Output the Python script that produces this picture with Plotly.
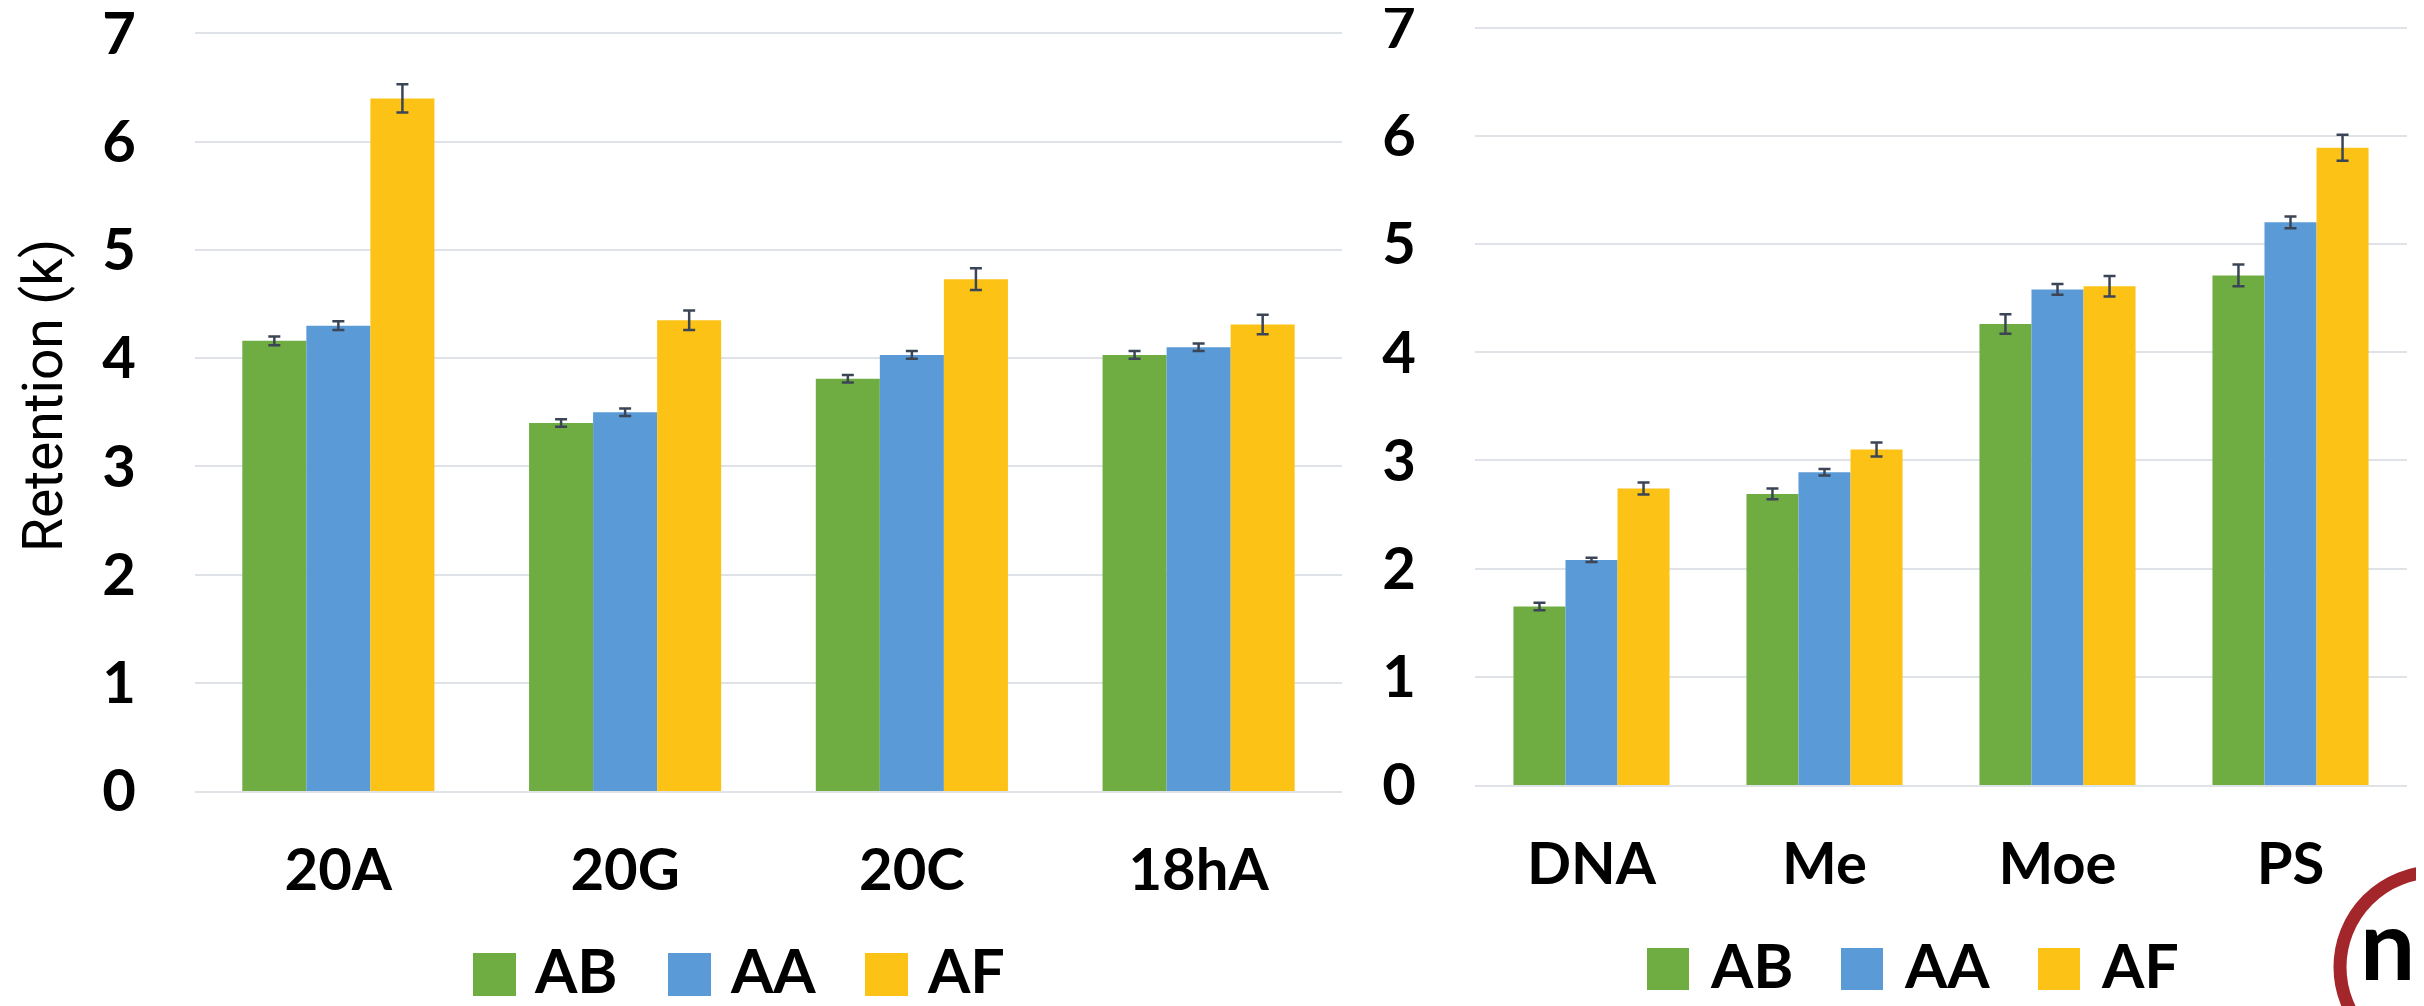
import plotly.graph_objects as go

# ---- data ----
left_categories = ["20A", "20G", "20C", "18hA"]
right_categories = ["DNA", "Me", "Moe", "PS"]
series_names = ["AB", "AA", "AF"]

left_AB = [4.16, 3.40, 3.81, 4.03]
left_AA = [4.30, 3.50, 4.03, 4.10]
left_AF = [6.40, 4.35, 4.73, 4.31]
left_AB_err = [0.04, 0.035, 0.035, 0.035]
left_AA_err = [0.04, 0.035, 0.035, 0.035]
left_AF_err = [0.13, 0.09, 0.10, 0.09]

right_AB = [1.65, 2.69, 4.26, 4.71]
right_AA = [2.08, 2.89, 4.58, 5.20]
right_AF = [2.74, 3.10, 4.61, 5.89]
right_AB_err = [0.035, 0.05, 0.09, 0.10]
right_AA_err = [0.02, 0.03, 0.05, 0.055]
right_AF_err = [0.055, 0.065, 0.095, 0.12]

y_ticks = [0, 1, 2, 3, 4, 5, 6, 7]

colors = {"AB": "#6fad43", "AA": "#5a9ad6", "AF": "#fcc316"}
err_color = "#3b4556"

# the page body has an 8px margin: draw a figure that starts at (8, 8)
OFF = 8
W, H = 2424 - OFF, 1006 - OFF
def px(x):
    return (x - OFF) / W
def py(y):
    return 1 - (y - OFF) / H

fig = go.Figure()

left_vals = {"AB": (left_AB, left_AB_err), "AA": (left_AA, left_AA_err), "AF": (left_AF, left_AF_err)}
right_vals = {"AB": (right_AB, right_AB_err), "AA": (right_AA, right_AA_err), "AF": (right_AF, right_AF_err)}

for name in series_names:
    v, e = left_vals[name]
    fig.add_trace(go.Bar(
        x=left_categories, y=v, name=name, xaxis="x", yaxis="y",
        marker=dict(color=colors[name], line=dict(width=0)),
        error_y=dict(type="data", array=e, visible=True, color=err_color, thickness=2.5, width=6),
        showlegend=False,
    ))
for name in series_names:
    v, e = right_vals[name]
    fig.add_trace(go.Bar(
        x=right_categories, y=v, name=name, xaxis="x2", yaxis="y2",
        marker=dict(color=colors[name], line=dict(width=0)),
        error_y=dict(type="data", array=e, visible=True, color=err_color, thickness=2.5, width=6),
        showlegend=False,
    ))

tickfont = dict(family="Lato", size=58, color="black", weight="bold")
grid = "#dfe2e7"

YTOP = 7.02  # small headroom so the 7 gridline/label is kept
yaxis_common = dict(
    range=[0, YTOP], tickvals=y_ticks, showgrid=True, gridcolor=grid, gridwidth=2,
    zeroline=False, showline=False, ticks="", tickfont=tickfont, ticklabelstandoff=58,
    ticklabeloverflow="allow", automargin=False, fixedrange=True,
)
xaxis_common = dict(
    showgrid=False, zeroline=False, showline=True, linecolor=grid, linewidth=2,
    ticks="", tickfont=tickfont, ticklabelstandoff=27, ticklabeloverflow="allow",
    automargin=False,
)

def ydomain(y0_px, y7_px):
    per = (y0_px - y7_px) / 7.0
    top_px = y0_px - per * YTOP
    return [py(y0_px), py(top_px)]

fig.update_layout(
    template="none",
    width=W, height=H,
    margin=dict(l=0, r=0, t=0, b=0, pad=0),
    paper_bgcolor="white", plot_bgcolor="white",
    barmode="group", bargap=0.33, bargroupgap=0,
    showlegend=False,
    xaxis=dict(domain=[px(195), px(1342)], anchor="y", **xaxis_common),
    yaxis=dict(domain=ydomain(791, 33.5), anchor="x", **yaxis_common),
    xaxis2=dict(domain=[px(1475), px(2407)], anchor="y2", **xaxis_common),
    yaxis2=dict(domain=ydomain(785, 27.6), anchor="x2", **yaxis_common),
)

# y-axis title
fig.add_annotation(
    text="Retention (k)", x=px(43), y=py(396), xref="paper", yref="paper",
    textangle=-90, showarrow=False, xanchor="center", yanchor="middle",
    font=dict(family="Roboto", size=55, color="black"),
)

# manual legends (large swatches)
legend_specs = [
    # (swatch left x, swatch top y, swatch size, text x)
    [(473, 953, 43, 532), (668, 953, 43, 728), (865, 953, 43, 925)],
    [(1647, 948, 42, 1708), (1841, 948, 42, 1902), (2038, 948, 42, 2099)],
]
for spec in legend_specs:
    for name, (sx, sy, s, tx) in zip(series_names, spec):
        fig.add_shape(type="rect", xref="paper", yref="paper",
                      x0=px(sx), x1=px(sx + s), y0=py(sy + s), y1=py(sy),
                      fillcolor=colors[name], line=dict(width=0))
        fig.add_annotation(text=name, x=px(tx), y=py(sy + s / 2 - 5), xref="paper", yref="paper",
                           showarrow=False, xanchor="left", yanchor="middle",
                           font=dict(family="Lato", size=61, color="black", weight="bold"))

# logo (partial, bottom-right corner)
fig.add_shape(type="circle", xref="paper", yref="paper",
              x0=px(2340), x1=px(2530), y0=py(1062), y1=py(872),
              line=dict(color="#a3262a", width=13), fillcolor="rgba(0,0,0,0)")
fig.add_annotation(text="n", x=px(2358), y=py(942), xref="paper", yref="paper",
                   showarrow=False, xanchor="left", yanchor="middle",
                   font=dict(family="Lato", size=98, color="black", weight="bold"))

fig.write_html("out.html")
